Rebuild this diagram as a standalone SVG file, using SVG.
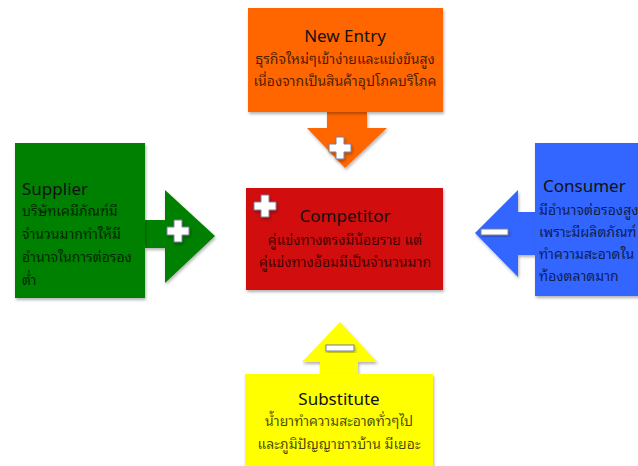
<svg xmlns="http://www.w3.org/2000/svg" width="638" height="466" viewBox="0 0 638 466">
<defs>
<filter id="sh" x="-10%" y="-10%" width="130%" height="130%"><feDropShadow dx="1" dy="2" stdDeviation="1.5" flood-color="#000" flood-opacity="0.3"/></filter>
<path id="plus" d="M-4,-11 H4 V-4 H11 V4 H4 V11 H-4 V4 H-11 V-4 H-4 Z"/>
</defs>
<style>
.t{font-family:"Noto Sans","Open Sans",sans-serif;font-size:17px;fill:#111}
.th{font-family:"Noto Sans Thai Looped","Noto Serif Thai","Noto Sans Thai","Noto Sans",sans-serif;font-size:14px;fill:#000;fill-opacity:0.72}
.pm{fill:#fff;stroke:#7a7f9a;stroke-width:1;filter:url(#sh)}
</style>
<rect width="638" height="466" fill="#fff"/>
<g id="connectors">
<path d="M327,112 H367 V128 H387 L345,168 L307,128 H327 Z" fill="#ff6600" filter="url(#sh)"/>
<use href="#plus" x="340" y="148" class="pm"/>
<path d="M145,220 H165 V190 L215,236 L165,283 V248 H145 Z" fill="#008000" filter="url(#sh)"/>
<use href="#plus" x="178" y="231" class="pm"/>
<path d="M535,212 H518 V190 L475,233 L518,277 V255 H535 Z" fill="#3366ff" filter="url(#sh)"/>
<rect x="481" y="229" width="27" height="6" class="pm"/>
<path d="M320,374 V362 H302 L340,322 L377,362 H358 V374 Z" fill="#ffff00" filter="url(#sh)"/>
<rect x="326" y="345" width="28" height="6" class="pm"/>
</g>
<g id="new-entry">
<rect x="248" y="8" width="195" height="104" fill="#ff6600" filter="url(#sh)"/>
<text class="t" x="345" y="42" text-anchor="middle">New Entry</text>
<text class="th" x="345" y="64" text-anchor="middle">ธุรกิจใหม่ๆเข้าง่ายและแข่งขันสูง</text>
<text class="th" x="345" y="86" text-anchor="middle">เนื่องจากเป็นสินค้าอุปโภคบริโภค</text>
</g>
<g id="supplier">
<rect x="15" y="143" width="130" height="155" fill="#008000" filter="url(#sh)"/>
<text class="t" x="22" y="195">Supplier</text>
<text class="th" x="22" y="216">บริษัทเคมีภัณฑ์มี</text>
<text class="th" x="22" y="239">จำนวนมากทำให้มี</text>
<text class="th" x="22" y="262">อำนาจในการต่อรอง</text>
<text class="th" x="22" y="285">ต่ำ</text>
</g>
<g id="competitor">
<rect x="246" y="188" width="197" height="102" fill="#d20a0a" filter="url(#sh)"/>
<use href="#plus" x="265" y="206" class="pm"/>
<text class="t" x="345" y="222" text-anchor="middle">Competitor</text>
<text class="th" x="345" y="245" text-anchor="middle">คู่แข่งทางตรงมีน้อยราย แต่</text>
<text class="th" x="345" y="267" text-anchor="middle">คู่แข่งทางอ้อมมีเป็นจำนวนมาก</text>
</g>
<g id="consumer">
<rect x="535" y="143" width="110" height="153" fill="#3366ff" filter="url(#sh)"/>
<text class="t" x="543" y="192">Consumer</text>
<text class="th" x="539" y="215">มีอำนาจต่อรองสูง</text>
<text class="th" x="539" y="237">เพราะมีผลิตภัณฑ์</text>
<text class="th" x="539" y="259">ทำความสะอาดใน</text>
<text class="th" x="539" y="281">ท้องตลาดมาก</text>
</g>
<g id="substitute">
<rect x="245" y="374" width="188" height="96" fill="#ffff00" filter="url(#sh)"/>
<text class="t" x="339" y="405" text-anchor="middle">Substitute</text>
<text class="th" x="339" y="426" text-anchor="middle">น้ำยาทำความสะอาดทั่วๆไป</text>
<text class="th" x="339" y="449" text-anchor="middle">และภูมิปัญญาชาวบ้าน มีเยอะ</text>
</g>
</svg>
